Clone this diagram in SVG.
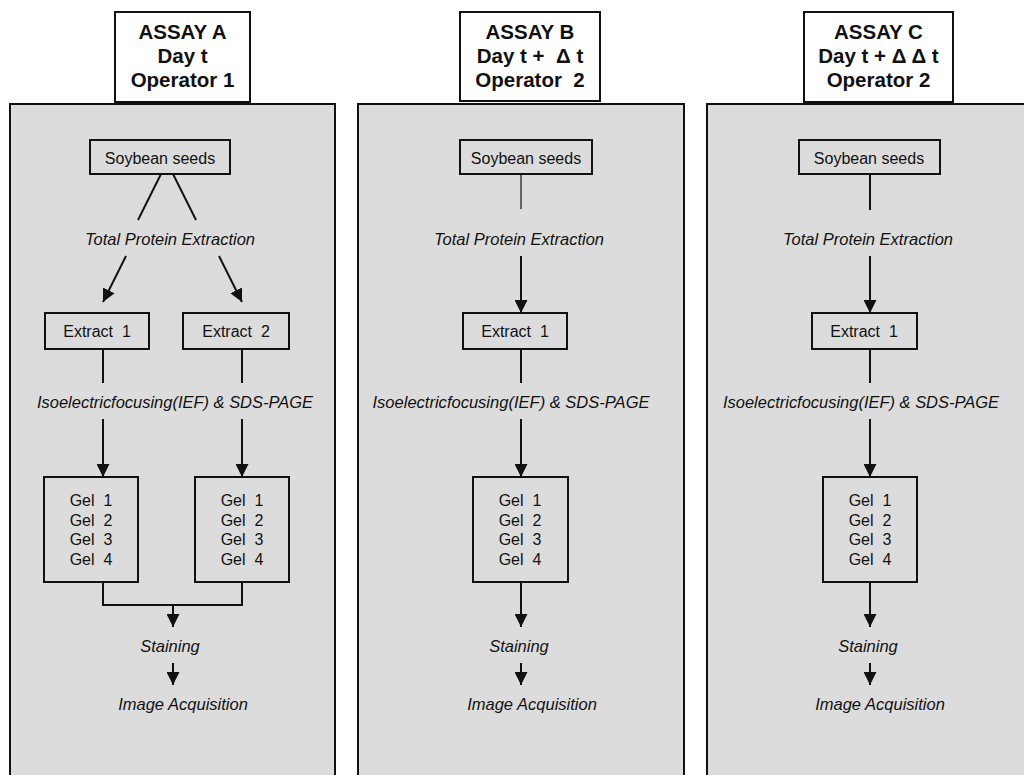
<svg xmlns="http://www.w3.org/2000/svg" width="1024" height="775" viewBox="0 0 1024 775">
<defs>
<style>
.panel{fill:#dcdcdc;stroke:#111;stroke-width:2}
.hdr{fill:#fff;stroke:#111;stroke-width:2}
.box{fill:#dcdcdc;stroke:#111;stroke-width:2}
.h{font-family:"Liberation Sans",Arial,sans-serif;font-weight:bold;font-size:20.5px;fill:#111;text-anchor:middle}
.t{font-family:"Liberation Sans",Arial,sans-serif;font-size:16px;fill:#111;text-anchor:middle}
.i{font-family:"Liberation Sans",Arial,sans-serif;font-style:italic;font-size:16.5px;fill:#111;text-anchor:middle}
.ln{stroke:#111;stroke-width:2;fill:none}
.ar{stroke:#111;stroke-width:2;fill:none;marker-end:url(#ah)}
</style>
<marker id="ah" markerUnits="userSpaceOnUse" markerWidth="13" markerHeight="13" viewBox="0 0 10 10" refX="10" refY="5" orient="auto">
<path d="M0,0 L10,5 L0,10 z" fill="#111"/>
</marker>
</defs>
<rect width="1024" height="775" fill="#fff"/>

<g id="panelA">
<rect class="panel" x="10" y="104" width="325" height="690"/>
</g>
<g id="panelB">
<rect class="panel" x="358" y="104" width="326" height="690"/>
</g>
<g id="panelC">
<rect class="panel" x="707" y="104" width="330" height="690"/>
</g>

<g id="headerA">
<rect class="hdr" x="115" y="12" width="135" height="90"/>
<text class="h" x="182.5" y="39">ASSAY A</text>
<text class="h" x="182.5" y="63">Day t</text>
<text class="h" x="182.5" y="87">Operator 1</text>
</g>
<g id="headerB">
<rect class="hdr" x="460" y="12" width="140" height="89"/>
<text class="h" x="530" y="39">ASSAY B</text>
<text class="h" x="530" y="63" xml:space="preserve">Day t +  Δ t</text>
<text class="h" x="530" y="87" xml:space="preserve">Operator  2</text>
</g>
<g id="headerC">
<rect class="hdr" x="804" y="12" width="149" height="90"/>
<text class="h" x="878.5" y="39">ASSAY C</text>
<text class="h" x="878.5" y="63">Day t + Δ Δ t</text>
<text class="h" x="878.5" y="87">Operator 2</text>
</g>

<!-- Panel A nodes -->
<g id="A-soy"><rect class="box" x="90" y="140" width="140" height="34"/><text class="t" x="160" y="164">Soybean seeds</text></g>
<g id="A-tpe"><text class="i" x="170" y="245">Total Protein Extraction</text></g>
<g id="A-ext1"><rect class="box" x="45" y="313" width="104" height="36"/><text class="t" x="97" y="337" xml:space="preserve">Extract  1</text></g>
<g id="A-ext2"><rect class="box" x="183" y="313" width="106" height="36"/><text class="t" x="236" y="337" xml:space="preserve">Extract  2</text></g>
<g id="A-ief"><text class="i" x="175" y="408" textLength="276" lengthAdjust="spacingAndGlyphs">Isoelectricfocusing(IEF) &amp; SDS-PAGE</text></g>
<g id="A-gel1"><rect class="box" x="44" y="477" width="94" height="105"/>
<text class="t" x="91" y="506" xml:space="preserve">Gel  1</text><text class="t" x="91" y="526" xml:space="preserve">Gel  2</text><text class="t" x="91" y="545" xml:space="preserve">Gel  3</text><text class="t" x="91" y="565" xml:space="preserve">Gel  4</text></g>
<g id="A-gel2"><rect class="box" x="195" y="477" width="94" height="105"/>
<text class="t" x="242" y="506" xml:space="preserve">Gel  1</text><text class="t" x="242" y="526" xml:space="preserve">Gel  2</text><text class="t" x="242" y="545" xml:space="preserve">Gel  3</text><text class="t" x="242" y="565" xml:space="preserve">Gel  4</text></g>
<g id="A-stain"><text class="i" x="170" y="652">Staining</text></g>
<g id="A-img"><text class="i" x="183" y="710">Image Acquisition</text></g>

<!-- Panel B nodes -->
<g id="B-soy"><rect class="box" x="460" y="140" width="132" height="34"/><text class="t" x="526" y="164">Soybean seeds</text></g>
<g id="B-tpe"><text class="i" x="519" y="245">Total Protein Extraction</text></g>
<g id="B-ext1"><rect class="box" x="463" y="313" width="104" height="36"/><text class="t" x="515" y="337" xml:space="preserve">Extract  1</text></g>
<g id="B-ief"><text class="i" x="511" y="408" textLength="277" lengthAdjust="spacingAndGlyphs">Isoelectricfocusing(IEF) &amp; SDS-PAGE</text></g>
<g id="B-gel"><rect class="box" x="473" y="477" width="95" height="105"/>
<text class="t" x="520" y="506" xml:space="preserve">Gel  1</text><text class="t" x="520" y="526" xml:space="preserve">Gel  2</text><text class="t" x="520" y="545" xml:space="preserve">Gel  3</text><text class="t" x="520" y="565" xml:space="preserve">Gel  4</text></g>
<g id="B-stain"><text class="i" x="519" y="652">Staining</text></g>
<g id="B-img"><text class="i" x="532" y="710">Image Acquisition</text></g>

<!-- Panel C nodes -->
<g id="C-soy"><rect class="box" x="799" y="140" width="141" height="34"/><text class="t" x="869" y="164">Soybean seeds</text></g>
<g id="C-tpe"><text class="i" x="868" y="245">Total Protein Extraction</text></g>
<g id="C-ext1"><rect class="box" x="812" y="313" width="105" height="36"/><text class="t" x="864" y="337" xml:space="preserve">Extract  1</text></g>
<g id="C-ief"><text class="i" x="861" y="408" textLength="276" lengthAdjust="spacingAndGlyphs">Isoelectricfocusing(IEF) &amp; SDS-PAGE</text></g>
<g id="C-gel"><rect class="box" x="823" y="477" width="94" height="105"/>
<text class="t" x="870" y="506" xml:space="preserve">Gel  1</text><text class="t" x="870" y="526" xml:space="preserve">Gel  2</text><text class="t" x="870" y="545" xml:space="preserve">Gel  3</text><text class="t" x="870" y="565" xml:space="preserve">Gel  4</text></g>
<g id="C-stain"><text class="i" x="868" y="652">Staining</text></g>
<g id="C-img"><text class="i" x="880" y="710">Image Acquisition</text></g>

<g id="connectors">
<!-- A -->
<line class="ln" x1="161" y1="174" x2="138" y2="220"/>
<line class="ln" x1="173" y1="174" x2="196" y2="220"/>
<line class="ar" x1="126" y1="256" x2="103" y2="302"/>
<line class="ar" x1="219" y1="256" x2="242" y2="302"/>
<line class="ln" x1="103" y1="349" x2="103" y2="383"/>
<line class="ln" x1="242" y1="349" x2="242" y2="383"/>
<line class="ar" x1="103" y1="419" x2="103" y2="477"/>
<line class="ar" x1="242" y1="419" x2="242" y2="477"/>
<polyline class="ln" points="103,582 103,605 242,605 242,582"/>
<line class="ar" x1="173" y1="605" x2="173" y2="627"/>
<line class="ar" x1="173" y1="663" x2="173" y2="685"/>
<!-- B -->
<line class="ln" x1="521" y1="174" x2="521" y2="209" style="stroke-width:1.2"/>
<line class="ar" x1="521" y1="256" x2="521" y2="313"/>
<line class="ln" x1="521" y1="349" x2="521" y2="383"/>
<line class="ar" x1="521" y1="419" x2="521" y2="477"/>
<line class="ar" x1="521" y1="582" x2="521" y2="627"/>
<line class="ar" x1="521" y1="663" x2="521" y2="685"/>
<!-- C -->
<line class="ln" x1="870" y1="174" x2="870" y2="210"/>
<line class="ar" x1="870" y1="256" x2="870" y2="313"/>
<line class="ln" x1="870" y1="349" x2="870" y2="383"/>
<line class="ar" x1="870" y1="419" x2="870" y2="477"/>
<line class="ar" x1="870" y1="582" x2="870" y2="627"/>
<line class="ar" x1="870" y1="663" x2="870" y2="685"/>
</g>
</svg>
